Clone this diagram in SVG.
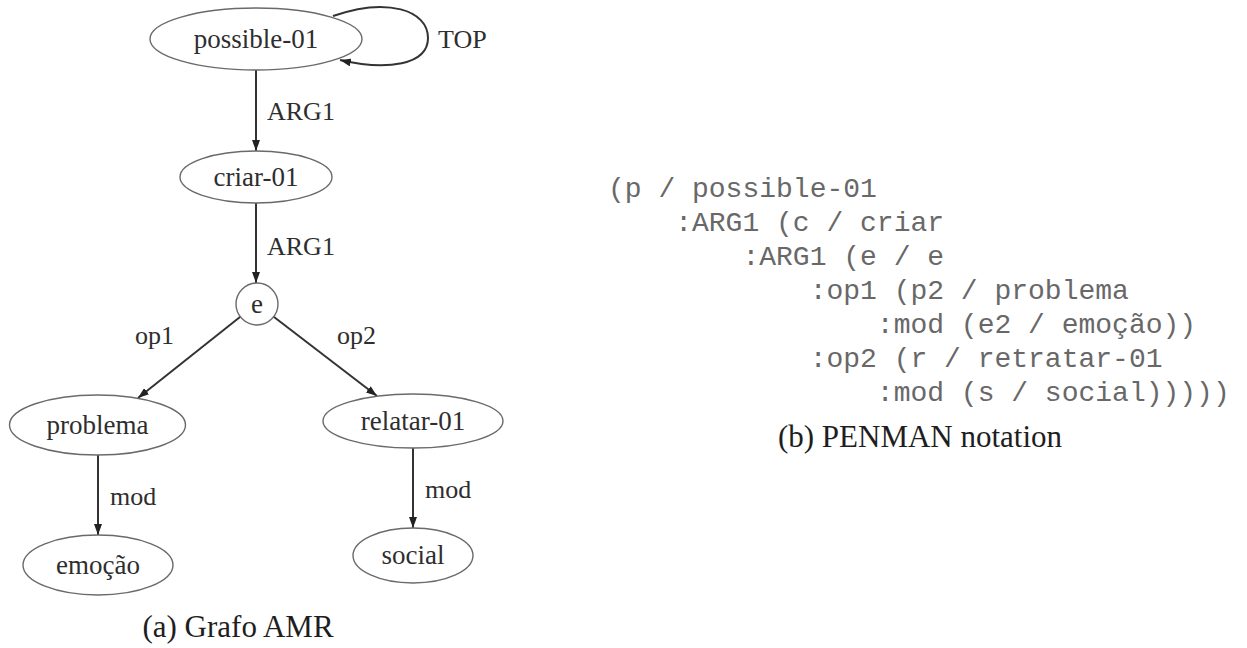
<svg xmlns="http://www.w3.org/2000/svg" width="1247" height="648" viewBox="0 0 1247 648">
  <style>
    .node { fill: #ffffff; stroke: #6a6a6a; stroke-width: 1.4; }
    .lbl { font-family: "Liberation Serif", "Times New Roman", serif; font-size: 27px; fill: #2e2e2e; text-anchor: middle; }
    .elbl { font-family: "Liberation Serif", "Times New Roman", serif; font-size: 26px; fill: #2e2e2e; }
    .edge { fill: none; stroke: #333333; stroke-width: 2; marker-end: url(#arrow); }
    .code { font-family: "Liberation Mono", "Courier New", monospace; font-size: 28px; fill: #686868; white-space: pre; }
    .cap { font-family: "Liberation Serif", "Times New Roman", serif; font-size: 31px; fill: #1e1e1e; text-anchor: middle; }
  </style>
  <defs>
    <marker id="arrow" markerUnits="userSpaceOnUse" markerWidth="11" markerHeight="8" refX="11" refY="4" orient="auto">
      <path d="M0,0 L11,4 L0,8 z" fill="#222222"/>
    </marker>
  </defs>

  <rect width="1247" height="648" fill="#ffffff"/>

  <!-- AMR graph: edges and their role labels -->
  <g id="edges">
    <path class="edge" d="M333,16 C387,-3 428,10 428,38 C428,65 387,71 340,60"/>
    <line class="edge" x1="256" y1="70" x2="256" y2="151"/>
    <line class="edge" x1="256" y1="203" x2="256" y2="283"/>
    <line class="edge" x1="240.3" y1="316.7" x2="138" y2="398"/>
    <line class="edge" x1="273.7" y1="316.7" x2="377" y2="396"/>
    <line class="edge" x1="98" y1="455" x2="98" y2="535"/>
    <line class="edge" x1="413" y1="448" x2="413" y2="528"/>
    <text class="elbl" x="438" y="48">TOP</text>
    <text class="elbl" x="267" y="120">ARG1</text>
    <text class="elbl" x="267" y="255">ARG1</text>
    <text class="elbl" x="135" y="344">op1</text>
    <text class="elbl" x="337" y="344">op2</text>
    <text class="elbl" x="110" y="505">mod</text>
    <text class="elbl" x="425" y="498">mod</text>
  </g>

  <!-- AMR graph: nodes -->
  <g id="n-possible">
    <ellipse class="node" cx="256" cy="39" rx="106" ry="31"/>
    <text class="lbl" x="256" y="48">possible-01</text>
  </g>
  <g id="n-criar">
    <ellipse class="node" cx="256" cy="177" rx="76" ry="26"/>
    <text class="lbl" x="256" y="186">criar-01</text>
  </g>
  <g id="n-e">
    <circle class="node" cx="257" cy="304" r="21"/>
    <text class="lbl" x="257" y="313">e</text>
  </g>
  <g id="n-problema">
    <ellipse class="node" cx="97.5" cy="425" rx="88" ry="30"/>
    <text class="lbl" x="97.5" y="434">problema</text>
  </g>
  <g id="n-relatar">
    <ellipse class="node" cx="413" cy="421" rx="90" ry="27"/>
    <text class="lbl" x="413" y="430">relatar-01</text>
  </g>
  <g id="n-emocao">
    <ellipse class="node" cx="98" cy="565" rx="75" ry="30"/>
    <text class="lbl" x="98" y="574">emoção</text>
  </g>
  <g id="n-social">
    <ellipse class="node" cx="413" cy="555.5" rx="60" ry="27.5"/>
    <text class="lbl" x="413" y="564">social</text>
  </g>

  <text class="cap" x="238" y="637">(a) Grafo AMR</text>

  <!-- PENMAN serialisation -->
  <g id="penman">
    <text class="code" x="608" y="197">(p / possible-01</text>
    <text class="code" x="608" y="231">    :ARG1 (c / criar</text>
    <text class="code" x="608" y="265">        :ARG1 (e / e</text>
    <text class="code" x="608" y="299">            :op1 (p2 / problema</text>
    <text class="code" x="608" y="333">                :mod (e2 / emoção))</text>
    <text class="code" x="608" y="367">            :op2 (r / retratar-01</text>
    <text class="code" x="608" y="401">                :mod (s / social)))))</text>
    <text class="cap" x="920" y="447">(b) PENMAN notation</text>
  </g>
</svg>
